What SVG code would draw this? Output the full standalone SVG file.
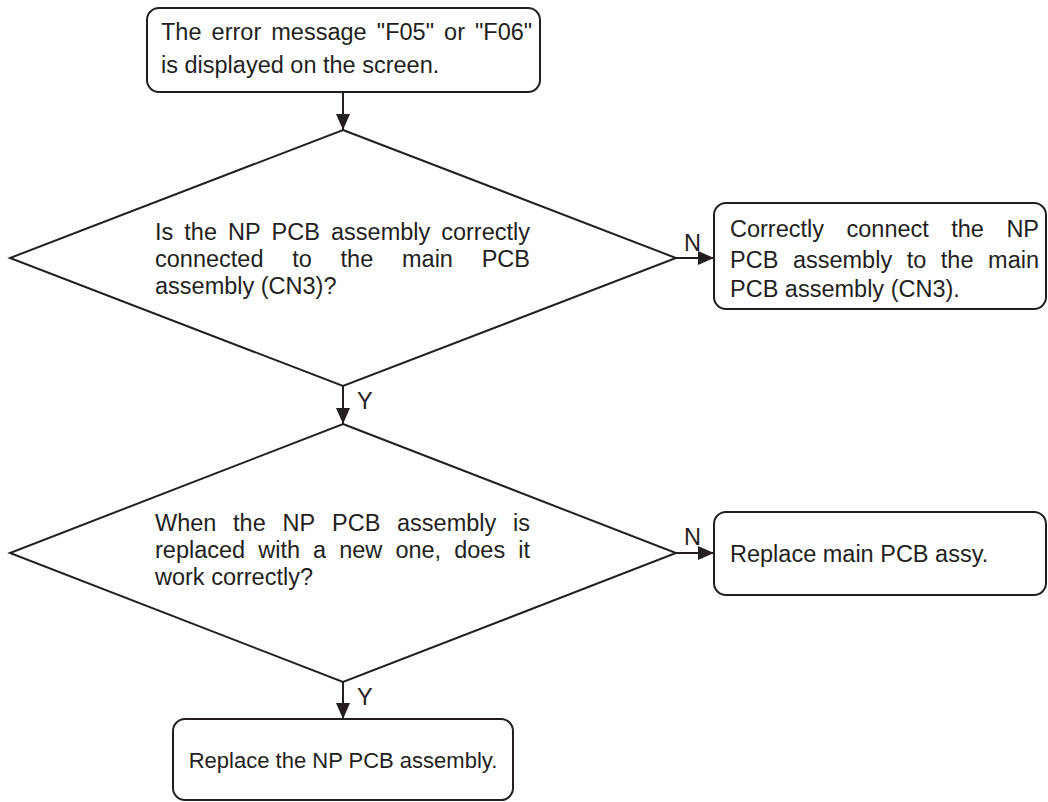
<svg xmlns="http://www.w3.org/2000/svg" width="1048" height="802" viewBox="0 0 1048 802">
<style>
.box{fill:#fff;stroke:#231f20;stroke-width:2}
.dia{fill:#fff;stroke:#231f20;stroke-width:2}
.t{font-family:"Liberation Sans",Arial,sans-serif;font-size:23.5px;fill:#231f20}
.s{font-size:22px}
.c{stroke:#231f20;stroke-width:2;fill:none}
</style>
<defs>
<marker id="ah" viewBox="0 0 16 14" refX="16" refY="7" markerWidth="16" markerHeight="14" markerUnits="userSpaceOnUse" orient="auto">
<path d="M0,0 L16,7 L0,14 Z" fill="#231f20"/>
</marker>
</defs>
<rect width="1048" height="802" fill="#fff"/>
<g id="connectors">
<line class="c" x1="343" y1="92" x2="343" y2="130" marker-end="url(#ah)"/>
<line class="c" x1="676" y1="258" x2="714" y2="258" marker-end="url(#ah)"/>
<line class="c" x1="343" y1="386" x2="343" y2="424" marker-end="url(#ah)"/>
<line class="c" x1="676" y1="553" x2="714" y2="553" marker-end="url(#ah)"/>
<line class="c" x1="343" y1="682" x2="343" y2="719" marker-end="url(#ah)"/>
<text class="t" x="684" y="251">N</text>
<text class="t" x="684" y="545">N</text>
<text class="t" x="357" y="409">Y</text>
<text class="t" x="357" y="705">Y</text>
</g>
<g id="start">
<rect class="box" x="147" y="8" width="393" height="84" rx="12"/>
<text class="t" y="40"><tspan x="161">The</tspan><tspan x="211.6">error</tspan><tspan x="271.3">message</tspan><tspan x="376.8">"F05"</tspan><tspan x="444.1">or</tspan><tspan x="475">"F06"</tspan></text>
<text class="t" x="161" y="73">is displayed on the screen.</text>
</g>
<g id="decision1">
<polygon class="dia" points="343,130 676,258 343,386 10,258"/>
<text class="t" y="240"><tspan x="155">Is</tspan><tspan x="184.3">the</tspan><tspan x="228">NP</tspan><tspan x="271.6">PCB</tspan><tspan x="331">assembly</tspan><tspan x="441.2">correctly</tspan></text>
<text class="t" y="267"><tspan x="155">connected</tspan><tspan x="292.2">to</tspan><tspan x="340.6">the</tspan><tspan x="402">main</tspan><tspan x="481.7">PCB</tspan></text>
<text class="t" x="155" y="294">assembly (CN3)?</text>
</g>
<g id="fix1">
<rect class="box" x="714" y="203" width="332" height="106" rx="12"/>
<text class="t" y="237"><tspan x="730">Correctly</tspan><tspan x="846.5">connect</tspan><tspan x="951.2">the</tspan><tspan x="1006.4">NP</tspan></text>
<text class="t" y="268"><tspan x="730">PCB</tspan><tspan x="792.9">assembly</tspan><tspan x="906.7">to</tspan><tspan x="940.8">the</tspan><tspan x="988.1">main</tspan></text>
<text class="t" x="730" y="297">PCB assembly (CN3).</text>
</g>
<g id="decision2">
<polygon class="dia" points="343,424 676,553 343,682 10,553"/>
<text class="t" y="531"><tspan x="155">When</tspan><tspan x="233.1">the</tspan><tspan x="282.6">NP</tspan><tspan x="332">PCB</tspan><tspan x="397">assembly</tspan><tspan x="513">is</tspan></text>
<text class="t" y="558"><tspan x="155">replaced</tspan><tspan x="258.2">with</tspan><tspan x="313.1">a</tspan><tspan x="339.2">new</tspan><tspan x="395.4">one,</tspan><tspan x="454.2">does</tspan><tspan x="518.2">it</tspan></text>
<text class="t" x="155" y="585">work correctly?</text>
</g>
<g id="fix2">
<rect class="box" x="714" y="512" width="332" height="83" rx="12"/>
<text class="t" x="730" y="562">Replace main PCB assy.</text>
</g>
<g id="fix3">
<rect class="box" x="173" y="719" width="340" height="81" rx="12"/>
<text class="t s" x="343" y="768" text-anchor="middle">Replace the NP PCB assembly.</text>
</g>
</svg>
